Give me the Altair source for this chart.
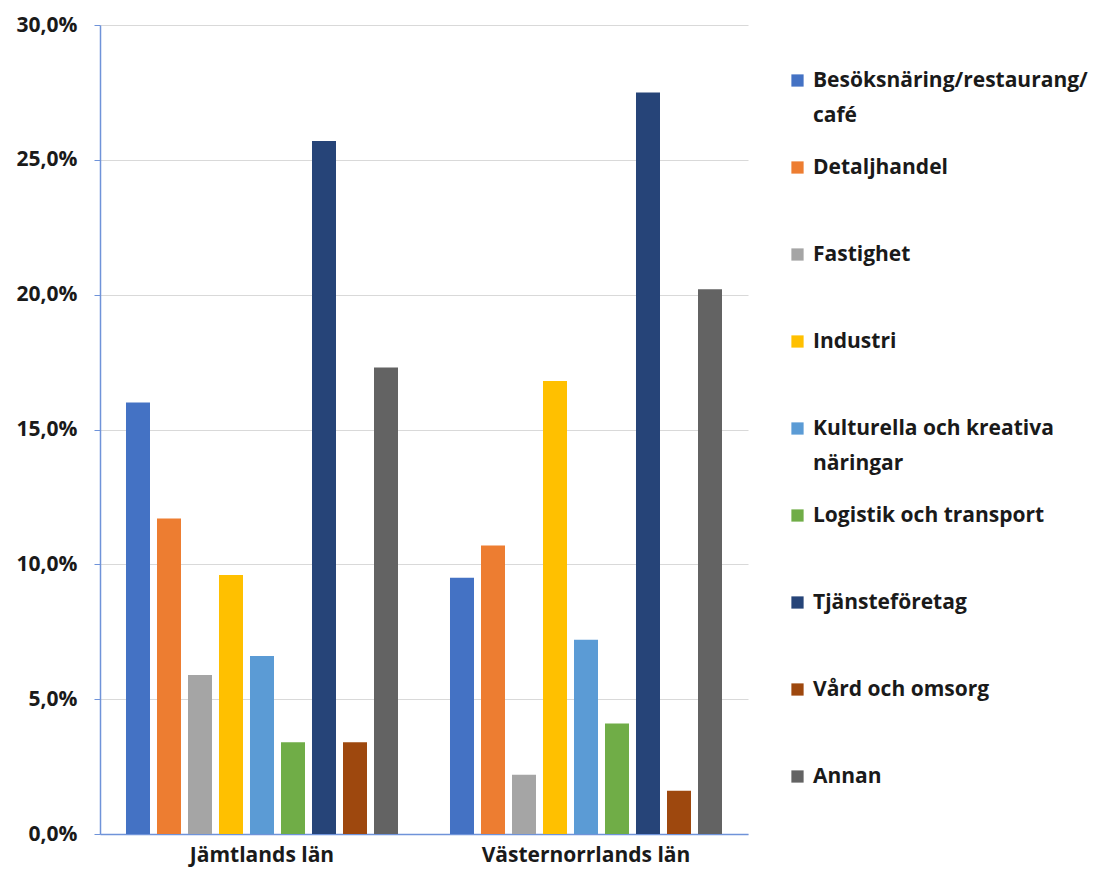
import altair as alt
import pandas as pd

categories = [
    "Besöksnäring/restaurang/café",
    "Detaljhandel",
    "Fastighet",
    "Industri",
    "Kulturella och kreativa näringar",
    "Logistik och transport",
    "Tjänsteföretag",
    "Vård och omsorg",
    "Annan",
]
legend_labels = [
    "Besöksnäring/restaurang/|café",
    "Detaljhandel",
    "Fastighet",
    "Industri",
    "Kulturella och kreativa|näringar",
    "Logistik och transport",
    "Tjänsteföretag",
    "Vård och omsorg",
    "Annan",
]
colors = ["#4472C4", "#ED7D31", "#A5A5A5", "#FFC000", "#5B9BD5",
          "#70AD47", "#264478", "#9E480E", "#636363"]
regions = ["Jämtlands län", "Västernorrlands län"]
jamtland = [16.0, 11.7, 5.9, 9.6, 6.6, 3.4, 25.7, 3.4, 17.3]
vasternorrland = [9.5, 10.7, 2.2, 16.8, 7.2, 4.1, 27.5, 1.6, 20.2]

rows = []
for region, vals in zip(regions, [jamtland, vasternorrland]):
    for cat, lab, v in zip(categories, legend_labels, vals):
        rows.append({"region": region, "category": lab, "value": v / 100})
df = pd.DataFrame(rows)

FONT = "Open Sans"
AXIS_BLUE = "#6F93D9"
FS = 21

chart = alt.Chart(df).mark_bar().encode(
    x=alt.X("region:N", sort=regions, title=None,
            scale=alt.Scale(paddingInner=0, paddingOuter=0),
            axis=alt.Axis(labelAngle=0, labelFont=FONT, labelFontWeight="bold",
                          labelFontSize=FS, labelColor="#1a1a1a", labelPadding=10,
                          labelLimit=400, ticks=False,
                          domainColor=AXIS_BLUE, domainWidth=1.5)),
    xOffset=alt.XOffset("category:N", sort=legend_labels,
                        scale=alt.Scale(paddingInner=0.2258, paddingOuter=0.8387)),
    y=alt.Y("value:Q", title=None,
            scale=alt.Scale(domain=[0, 0.30], nice=False),
            axis=alt.Axis(values=[0, 0.05, 0.10, 0.15, 0.20, 0.25, 0.30],
                          labelExpr="replace(format(datum.value, '.1%'), '.', ',')",
                          labelFont=FONT, labelFontWeight="bold", labelFontSize=FS,
                          labelColor="#1a1a1a", labelPadding=17, tickSize=6,
                          tickColor=AXIS_BLUE, domainColor=AXIS_BLUE, domainWidth=1.5,
                          gridColor="#D9D9D9", gridWidth=1.2)),
    color=alt.Color("category:N", sort=legend_labels,
                    scale=alt.Scale(domain=legend_labels, range=colors),
                    legend=alt.Legend(title=None, orient="none", legendX=687, legendY=45,
                                      symbolType="square", symbolSize=150,
                                      symbolStrokeWidth=0,
                                      labelFont=FONT, labelFontWeight="bold",
                                      labelFontSize=FS, labelColor="#1a1a1a",
                                      labelOffset=5, labelLimit=400,
                                      labelBaseline="middle",
                                      labelExpr="split(datum.label, '|')",
                                      gridAlign="all",
                                      rowPadding=30)),
).properties(
    width=648, height=809,
    autosize=alt.AutoSizeParams(type="none"),
    padding={"left": 92, "top": 17, "right": 344, "bottom": 35},
).configure(
    style={"guide-label": {"lineHeight": 35}}
).configure_view(stroke=None)

chart.save("out.html", embed_options={"renderer": "svg", "actions": False})
